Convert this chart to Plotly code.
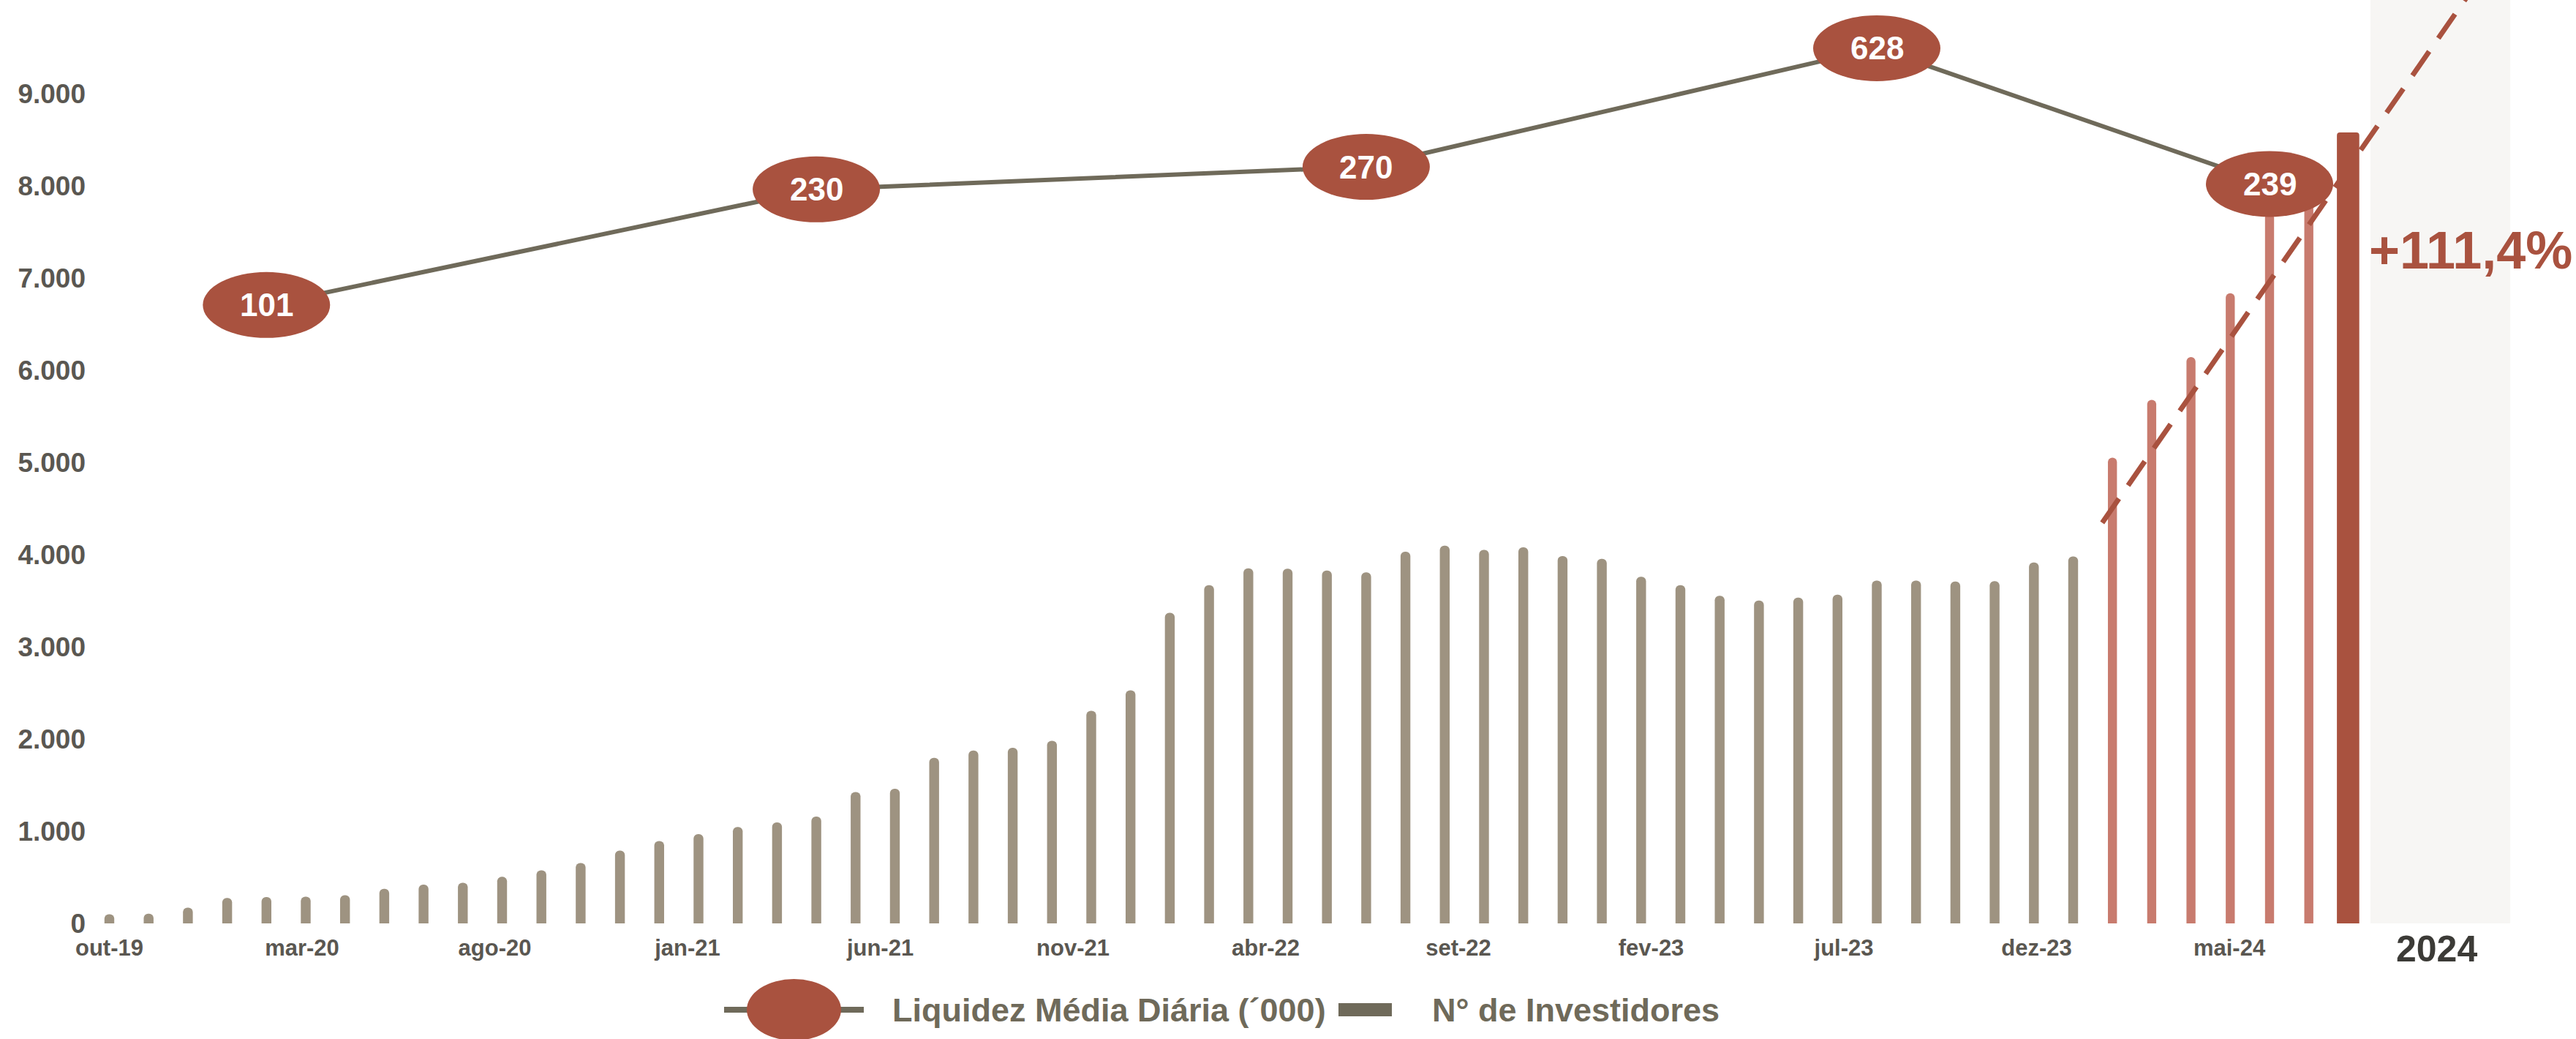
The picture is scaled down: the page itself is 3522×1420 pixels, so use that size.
import math
import plotly.graph_objects as go

# ---------------- data ----------------
months = [
    "out-19", "nov-19", "dez-19",
    "jan-20", "fev-20", "mar-20", "abr-20", "mai-20", "jun-20", "jul-20", "ago-20", "set-20", "out-20", "nov-20", "dez-20",
    "jan-21", "fev-21", "mar-21", "abr-21", "mai-21", "jun-21", "jul-21", "ago-21", "set-21", "out-21", "nov-21", "dez-21",
    "jan-22", "fev-22", "mar-22", "abr-22", "mai-22", "jun-22", "jul-22", "ago-22", "set-22", "out-22", "nov-22", "dez-22",
    "jan-23", "fev-23", "mar-23", "abr-23", "mai-23", "jun-23", "jul-23", "ago-23", "set-23", "out-23", "nov-23", "dez-23",
    "jan-24", "fev-24", "mar-24", "abr-24", "mai-24", "jun-24", "jul-24",
]

investidores_hist = [
    100, 105, 170, 275, 285, 290, 305, 375, 420, 440,
    505, 575, 655, 790, 892, 968, 1045, 1095, 1158, 1425,
    1460, 1795, 1875, 1905, 1980, 2305, 2527, 3370, 3668, 3852,
    3848, 3828, 3808, 4032, 4098, 4052, 4080, 3985, 3955, 3760,
    3668, 3553, 3502, 3533, 3565, 3718, 3718, 3708, 3712, 3915,
    3980,
]
investidores_2024 = [5052, 5679, 6143, 6836, 7700, 8000]
investidores_ultimo = [8580]

liq_months = ["fev-20", "abr-21", "jun-22", "jul-23", "mai-24"]
liq_values = [101, 230, 270, 628, 239]

trend_x = [50.74, 60.5]
trend_y = [4346, 10340]

tick_labels = ["out-19", "mar-20", "ago-20", "jan-21", "jun-21", "nov-21",
               "abr-22", "set-22", "fev-23", "jul-23", "dez-23", "mai-24"]
y_ticks = [0, 1000, 2000, 3000, 4000, 5000, 6000, 7000, 8000, 9000]

growth_label = "+111,4%"
year_label = "2024"
legend_liq = "Liquidez Média Diária (´000)"
legend_inv = "N° de Investidores"

# ---------------- layout helpers ----------------
W, H = 3522, 1420
ML, MR, MT, MB = 130, 0, 0, 158
PLOT_W = W - ML - MR
PLOT_H = H - MT - MB
FIRST_BAR_PX = 149.5
STEP_PX = 53.7
x_lo = -(FIRST_BAR_PX - ML) / STEP_PX
x_hi = x_lo + PLOT_W / STEP_PX
y_range = [0, 10016]
y3_range = [0.0931, 2.947]
tick_step = 4.907


def pxx(p):
    return (p - ML) / PLOT_W


def pxy(p):
    return (H - MB - p) / PLOT_H


def log_frac(v):
    # position of a value on the (log) liquidity axis, as a fraction of plot height
    return (math.log10(v) - y3_range[0]) / (y3_range[1] - y3_range[0])


GREY = "#9E9381"
PINK = "#C87B6E"
RED = "#A9523F"
OLIVE = "#6F6A5A"
TXT = "#5A5751"
FONT = "Liberation Sans, Arial, sans-serif"

n_hist = len(investidores_hist)
n_24 = len(investidores_2024)
x_hist = list(range(n_hist))
x_24 = list(range(n_hist, n_hist + n_24))
x_last = [n_hist + n_24]
liq_x = [months.index(m) for m in liq_months]

fig = go.Figure()

fig.add_trace(go.Bar(x=x_hist, y=investidores_hist, width=0.25,
                     marker=dict(color=GREY, cornerradius=6, line=dict(width=0)),
                     name=legend_inv, showlegend=False, hoverinfo="skip"))
fig.add_trace(go.Bar(x=x_24, y=investidores_2024, width=0.23,
                     marker=dict(color=PINK, cornerradius=6, line=dict(width=0)),
                     showlegend=False, hoverinfo="skip"))
fig.add_trace(go.Scatter(x=trend_x, y=trend_y, mode="lines",
                         line=dict(color=RED, width=7, dash="40px,22px"),
                         showlegend=False, hoverinfo="skip"))
fig.add_trace(go.Bar(x=x_last, y=investidores_ultimo, width=0.57,
                     marker=dict(color=RED, cornerradius=4, line=dict(width=0)),
                     xaxis="x2", yaxis="y2", showlegend=False, hoverinfo="skip"))
fig.add_trace(go.Scatter(x=liq_x, y=liq_values, mode="lines",
                         line=dict(color=OLIVE, width=6),
                         xaxis="x", yaxis="y3", name=legend_liq,
                         showlegend=False, hoverinfo="skip"))

shapes = []
annotations = []

# 2024 shaded column
shade_x0 = x_last[0] + 0.57
shade_x1 = x_last[0] + 4.13
shapes.append(dict(type="rect", xref="x", yref="paper", x0=shade_x0, x1=shade_x1,
                   y0=0, y1=1, fillcolor="#F7F6F4", line=dict(width=0), layer="below"))

# ellipses for liquidity points
for xv, v in zip(liq_x, liq_values):
    shapes.append(dict(type="circle", xref="x", yref="paper",
                       xsizemode="pixel", ysizemode="pixel",
                       xanchor=xv, yanchor=log_frac(v),
                       x0=-87, x1=87, y0=-45, y1=45,
                       fillcolor=RED, line=dict(width=0), layer="above"))
    annotations.append(dict(x=xv, y=math.log10(v), xref="x", yref="y3",
                            text=str(v), showarrow=False,
                            font=dict(family=FONT, size=44, color="white", weight="bold"),
                            xanchor="center", yanchor="middle"))

# +111,4%
annotations.append(dict(x=pxx(3519), y=7300, xref="paper", yref="y", text=growth_label,
                        showarrow=False, xanchor="right", yanchor="middle",
                        font=dict(family=FONT, size=72, color=RED, weight="bold")))
# 2024 label
annotations.append(dict(x=(shade_x0 + shade_x1) / 2 - 0.1, y=pxy(1297), xref="x", yref="paper",
                        text=year_label, showarrow=False, xanchor="center", yanchor="middle",
                        font=dict(family=FONT, size=50, color="#3C3B37", weight="bold")))

# manual legend
ly = 1380
shapes.append(dict(type="line", xref="paper", yref="paper",
                   x0=pxx(990), x1=pxx(1181), y0=pxy(ly), y1=pxy(ly),
                   line=dict(color=OLIVE, width=8)))
shapes.append(dict(type="circle", xref="paper", yref="paper",
                   x0=pxx(1021), x1=pxx(1150), y0=pxy(ly - 42), y1=pxy(ly + 42),
                   fillcolor=RED, line=dict(width=0)))
shapes.append(dict(type="rect", xref="paper", yref="paper",
                   x0=pxx(1830), x1=pxx(1903), y0=pxy(ly - 9), y1=pxy(ly + 9),
                   fillcolor=OLIVE, line=dict(width=0)))
annotations.append(dict(x=pxx(1218), y=pxy(ly), xref="paper", yref="paper", text=legend_liq,
                        showarrow=False, xanchor="left", yanchor="middle",
                        font=dict(family=FONT, size=45, color=OLIVE, weight="bold")))
annotations.append(dict(x=pxx(1956), y=pxy(ly), xref="paper", yref="paper", text=legend_inv,
                        showarrow=False, xanchor="left", yanchor="middle",
                        font=dict(family=FONT, size=45, color=OLIVE, weight="bold")))

fig.update_layout(
    width=W, height=H,
    margin=dict(l=ML, r=MR, t=MT, b=MB),
    paper_bgcolor="white", plot_bgcolor="white",
    separators=",.",
    showlegend=False,
    barmode="overlay",
    shapes=shapes,
    annotations=annotations,
    xaxis=dict(range=[x_lo, x_hi], showgrid=False, zeroline=False, showline=False,
               tickmode="array",
               tickvals=[k * tick_step for k in range(len(tick_labels))],
               ticktext=tick_labels, ticks="", ticklabelstandoff=12,
               tickfont=dict(family=FONT, size=31, color=TXT, weight="bold")),
    yaxis=dict(range=y_range, showgrid=False, zeroline=False, showline=False,
               tickmode="array", tickvals=y_ticks, tickformat=",d", ticks="",
               ticklabelstandoff=12,
               tickfont=dict(family=FONT, size=37, color=TXT, weight="bold")),
    xaxis2=dict(range=[x_lo, x_hi], overlaying="x", visible=False),
    yaxis2=dict(range=y_range, overlaying="y", visible=False),
    yaxis3=dict(type="log", range=y3_range, overlaying="y", visible=False),
)

fig.write_html("out.html", config={"displayModeBar": False},
               post_script="document.body.style.margin='0px';")
